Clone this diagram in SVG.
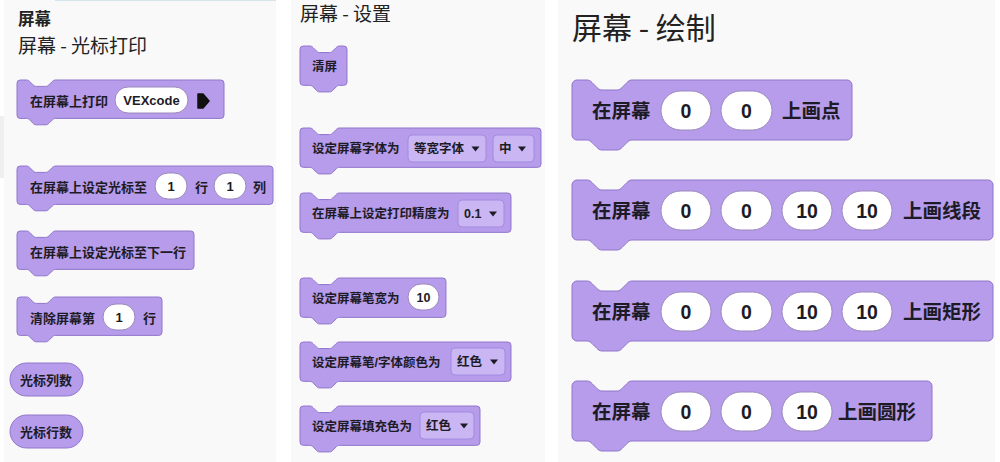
<svg xmlns="http://www.w3.org/2000/svg" width="1000" height="462" viewBox="0 0 1000 462">
<style>
.panel{fill:#f9f9f9}
.blk{fill:#b69cea;stroke:#9176cc;stroke-width:1;vector-effect:non-scaling-stroke}
.oval{fill:#ffffff;stroke:#9a88bd;stroke-width:1}
.dd{fill:#c9b6f3;stroke:#a28ae0;stroke-width:1}
.t{font-family:"Liberation Sans","Noto Sans CJK SC",sans-serif;font-weight:bold;fill:#1d1b26}
.h{font-family:"Noto Sans CJK SC","Liberation Sans",sans-serif;fill:#222222}
.s{font-size:13px}
.m{font-size:12.5px}
.l{font-size:19.5px}
.c{text-anchor:middle}
.tri{fill:#1d1b26}
</style>
<defs></defs>
<rect width="1000" height="462" fill="#ffffff"/>
<rect class="panel" x="4" y="0" width="272" height="462"/>
<rect class="panel" x="291" y="0" width="254" height="462"/>
<rect class="panel" x="558" y="0" width="437" height="462"/>
<line x1="55" y1="0.5" x2="276" y2="0.5" stroke="#d6e4ee" stroke-width="1"/>
<rect x="0" y="116" width="4" height="62" fill="#efefef"/>

<g id="titles">
<text class="h" x="18" y="25" font-size="16.5" font-weight="bold">屏幕</text>
<text class="h" x="18" y="52.5" font-size="19">屏幕 - 光标打印</text>
<text class="h" x="300" y="21" font-size="19">屏幕 - 设置</text>
<text class="h" x="572" y="39" font-size="30">屏幕 - 绘制</text>
</g>

<g id="connectors"></g>

<!-- Left panel -->
<g id="print">
<path class="blk" transform="translate(17,80) scale(0.8)" d="M0,4A4,4 0 0 1 4,0H12c2,0 3,1 4,2l4,4c1,1 2,2 4,2h12c2,0 3,-1 4,-2l4,-4c1,-1 2,-2 4,-2H254.75a4,4 0 0 1 4,4V44a4,4 0 0 1 -4,4H48c-2,0 -3,1 -4,2l-4,4c-1,1 -2,2 -4,2h-12c-2,0 -3,-1 -4,-2l-4,-4c-1,-1 -2,-2 -4,-2H4a4,4 0 0 1 -4,-4z"/>
<text class="t s" x="30" y="105.5">在屏幕上打印</text>
<rect class="oval" x="115" y="87" width="73" height="26" rx="13"/>
<text class="t s c" x="151.5" y="105">VEXcode</text>
<path d="M198,94H203L209,101L203,108H198Z" fill="#111" stroke="#111" stroke-width="1.5" stroke-linejoin="round"/>
</g>

<g id="setcursor">
<path class="blk" transform="translate(17,166) scale(0.8)" d="M0,4A4,4 0 0 1 4,0H12c2,0 3,1 4,2l4,4c1,1 2,2 4,2h12c2,0 3,-1 4,-2l4,-4c1,-1 2,-2 4,-2H316a4,4 0 0 1 4,4V44a4,4 0 0 1 -4,4H48c-2,0 -3,1 -4,2l-4,4c-1,1 -2,2 -4,2h-12c-2,0 -3,-1 -4,-2l-4,-4c-1,-1 -2,-2 -4,-2H4a4,4 0 0 1 -4,-4z"/>
<text class="t s" x="30" y="191.5">在屏幕上设定光标至</text>
<rect class="oval" x="155" y="173" width="32" height="26" rx="13"/>
<text class="t s c" x="171" y="191">1</text>
<text class="t s" x="195" y="191.5">行</text>
<rect class="oval" x="214" y="173" width="32" height="26" rx="13"/>
<text class="t s c" x="230" y="191">1</text>
<text class="t s" x="253" y="191.5">列</text>
</g>

<g id="nextrow">
<path class="blk" transform="translate(17,231) scale(0.8)" d="M0,4A4,4 0 0 1 4,0H12c2,0 3,1 4,2l4,4c1,1 2,2 4,2h12c2,0 3,-1 4,-2l4,-4c1,-1 2,-2 4,-2H217.25a4,4 0 0 1 4,4V44a4,4 0 0 1 -4,4H48c-2,0 -3,1 -4,2l-4,4c-1,1 -2,2 -4,2h-12c-2,0 -3,-1 -4,-2l-4,-4c-1,-1 -2,-2 -4,-2H4a4,4 0 0 1 -4,-4z"/>
<text class="t s" x="30" y="256.5">在屏幕上设定光标至下一行</text>
</g>

<g id="clearrow">
<path class="blk" transform="translate(17,297) scale(0.8)" d="M0,4A4,4 0 0 1 4,0H12c2,0 3,1 4,2l4,4c1,1 2,2 4,2h12c2,0 3,-1 4,-2l4,-4c1,-1 2,-2 4,-2H177.25a4,4 0 0 1 4,4V44a4,4 0 0 1 -4,4H48c-2,0 -3,1 -4,2l-4,4c-1,1 -2,2 -4,2h-12c-2,0 -3,-1 -4,-2l-4,-4c-1,-1 -2,-2 -4,-2H4a4,4 0 0 1 -4,-4z"/>
<text class="t s" x="30" y="322.5">清除屏幕第</text>
<rect class="oval" x="103" y="304" width="32" height="26" rx="13"/>
<text class="t s c" x="119" y="322">1</text>
<text class="t s" x="143" y="322.5">行</text>
</g>

<g id="cursorcol">
<rect class="blk" x="10" y="363" width="73" height="33" rx="16.5"/>
<text class="t s" x="20" y="384.5">光标列数</text>
</g>

<g id="cursorrow">
<rect class="blk" x="10" y="415" width="73" height="33" rx="16.5"/>
<text class="t s" x="20" y="436.5">光标行数</text>
</g>

<!-- Middle panel -->
<g id="clearscreen">
<path class="blk" transform="translate(300,46) scale(0.82)" d="M0,4A4,4 0 0 1 4,0H12c2,0 3,1 4,2l4,4c1,1 2,2 4,2h12c2,0 3,-1 4,-2l4,-4c1,-1 2,-2 4,-2H53.3a4,4 0 0 1 4,4V44a4,4 0 0 1 -4,4H48c-2,0 -3,1 -4,2l-4,4c-1,1 -2,2 -4,2h-12c-2,0 -3,-1 -4,-2l-4,-4c-1,-1 -2,-2 -4,-2H4a4,4 0 0 1 -4,-4z"/>
<text class="t m" x="312" y="71">清屏</text>
</g>

<g id="setfont">
<path class="blk" transform="translate(300,128) scale(0.82)" d="M0,4A4,4 0 0 1 4,0H12c2,0 3,1 4,2l4,4c1,1 2,2 4,2h12c2,0 3,-1 4,-2l4,-4c1,-1 2,-2 4,-2H289.9a4,4 0 0 1 4,4V44a4,4 0 0 1 -4,4H48c-2,0 -3,1 -4,2l-4,4c-1,1 -2,2 -4,2h-12c-2,0 -3,-1 -4,-2l-4,-4c-1,-1 -2,-2 -4,-2H4a4,4 0 0 1 -4,-4z"/>
<text class="t m" x="312" y="153">设定屏幕字体为</text>
<rect class="dd" x="408" y="135" width="78" height="27" rx="4"/>
<text class="t m" x="414" y="153">等宽字体</text>
<path class="tri" d="M471.5,146.5H479.5L475.5,151.5Z"/>
<rect class="dd" x="493" y="135" width="41" height="27" rx="4"/>
<text class="t m" x="499" y="153">中</text>
<path class="tri" d="M518,146.5H526L522,151.5Z"/>
</g>

<g id="setprecision">
<path class="blk" transform="translate(300,193) scale(0.82)" d="M0,4A4,4 0 0 1 4,0H12c2,0 3,1 4,2l4,4c1,1 2,2 4,2h12c2,0 3,-1 4,-2l4,-4c1,-1 2,-2 4,-2H253.3a4,4 0 0 1 4,4V44a4,4 0 0 1 -4,4H48c-2,0 -3,1 -4,2l-4,4c-1,1 -2,2 -4,2h-12c-2,0 -3,-1 -4,-2l-4,-4c-1,-1 -2,-2 -4,-2H4a4,4 0 0 1 -4,-4z"/>
<text class="t m" x="312" y="218">在屏幕上设定打印精度为</text>
<rect class="dd" x="458" y="200" width="46" height="27" rx="4"/>
<text class="t m" x="464" y="218">0.1</text>
<path class="tri" d="M489,211.5H497L493,216.5Z"/>
</g>

<g id="penwidth">
<path class="blk" transform="translate(300,278) scale(0.82)" d="M0,4A4,4 0 0 1 4,0H12c2,0 3,1 4,2l4,4c1,1 2,2 4,2h12c2,0 3,-1 4,-2l4,-4c1,-1 2,-2 4,-2H174a4,4 0 0 1 4,4V44a4,4 0 0 1 -4,4H48c-2,0 -3,1 -4,2l-4,4c-1,1 -2,2 -4,2h-12c-2,0 -3,-1 -4,-2l-4,-4c-1,-1 -2,-2 -4,-2H4a4,4 0 0 1 -4,-4z"/>
<text class="t m" x="312" y="303">设定屏幕笔宽为</text>
<rect class="oval" x="408" y="284" width="31" height="26" rx="13"/>
<text class="t m c" x="423.5" y="302">10</text>
</g>

<g id="pencolor">
<path class="blk" transform="translate(300,342) scale(0.82)" d="M0,4A4,4 0 0 1 4,0H12c2,0 3,1 4,2l4,4c1,1 2,2 4,2h12c2,0 3,-1 4,-2l4,-4c1,-1 2,-2 4,-2H253.3a4,4 0 0 1 4,4V44a4,4 0 0 1 -4,4H48c-2,0 -3,1 -4,2l-4,4c-1,1 -2,2 -4,2h-12c-2,0 -3,-1 -4,-2l-4,-4c-1,-1 -2,-2 -4,-2H4a4,4 0 0 1 -4,-4z"/>
<text class="t m" x="312" y="367">设定屏幕笔/字体颜色为</text>
<rect class="dd" x="451" y="348" width="54" height="27" rx="4"/>
<text class="t m" x="457" y="366">红色</text>
<path class="tri" d="M490,359.5H498L494,364.5Z"/>
</g>

<g id="fillcolor">
<path class="blk" transform="translate(300,406) scale(0.82)" d="M0,4A4,4 0 0 1 4,0H12c2,0 3,1 4,2l4,4c1,1 2,2 4,2h12c2,0 3,-1 4,-2l4,-4c1,-1 2,-2 4,-2H215.5a4,4 0 0 1 4,4V44a4,4 0 0 1 -4,4H48c-2,0 -3,1 -4,2l-4,4c-1,1 -2,2 -4,2h-12c-2,0 -3,-1 -4,-2l-4,-4c-1,-1 -2,-2 -4,-2H4a4,4 0 0 1 -4,-4z"/>
<text class="t m" x="312" y="431">设定屏幕填充色为</text>
<rect class="dd" x="420" y="412" width="54" height="27" rx="4"/>
<text class="t m" x="426" y="430">红色</text>
<path class="tri" d="M460,423.5H468L464,428.5Z"/>
</g>

<!-- Right panel -->
<g id="drawpixel">
<path class="blk" transform="translate(572,80) scale(1.25)" d="M0,4A4,4 0 0 1 4,0H12c2,0 3,1 4,2l4,4c1,1 2,2 4,2h12c2,0 3,-1 4,-2l4,-4c1,-1 2,-2 4,-2H220a4,4 0 0 1 4,4V44a4,4 0 0 1 -4,4H48c-2,0 -3,1 -4,2l-4,4c-1,1 -2,2 -4,2h-12c-2,0 -3,-1 -4,-2l-4,-4c-1,-1 -2,-2 -4,-2H4a4,4 0 0 1 -4,-4z"/>
<text class="t l" x="592" y="118">在屏幕</text>
<rect class="oval" x="661" y="91" width="50" height="39" rx="19.5"/>
<text class="t l c" x="686" y="117.5">0</text>
<rect class="oval" x="721" y="91" width="51" height="39" rx="19.5"/>
<text class="t l c" x="746.5" y="117.5">0</text>
<text class="t l" x="782" y="118">上画点</text>
</g>

<g id="drawline">
<path class="blk" transform="translate(572,180) scale(1.25)" d="M0,4A4,4 0 0 1 4,0H12c2,0 3,1 4,2l4,4c1,1 2,2 4,2h12c2,0 3,-1 4,-2l4,-4c1,-1 2,-2 4,-2H332.8a4,4 0 0 1 4,4V44a4,4 0 0 1 -4,4H48c-2,0 -3,1 -4,2l-4,4c-1,1 -2,2 -4,2h-12c-2,0 -3,-1 -4,-2l-4,-4c-1,-1 -2,-2 -4,-2H4a4,4 0 0 1 -4,-4z"/>
<text class="t l" x="592" y="218">在屏幕</text>
<rect class="oval" x="661" y="191" width="50" height="39" rx="19.5"/>
<text class="t l c" x="686" y="217.5">0</text>
<rect class="oval" x="721" y="191" width="51" height="39" rx="19.5"/>
<text class="t l c" x="746.5" y="217.5">0</text>
<rect class="oval" x="782" y="191" width="50" height="39" rx="19.5"/>
<text class="t l c" x="807" y="217.5">10</text>
<rect class="oval" x="842" y="191" width="50" height="39" rx="19.5"/>
<text class="t l c" x="867" y="217.5">10</text>
<text class="t l" x="903" y="218">上画线段</text>
</g>

<g id="drawrect">
<path class="blk" transform="translate(572,281) scale(1.25)" d="M0,4A4,4 0 0 1 4,0H12c2,0 3,1 4,2l4,4c1,1 2,2 4,2h12c2,0 3,-1 4,-2l4,-4c1,-1 2,-2 4,-2H332.8a4,4 0 0 1 4,4V44a4,4 0 0 1 -4,4H48c-2,0 -3,1 -4,2l-4,4c-1,1 -2,2 -4,2h-12c-2,0 -3,-1 -4,-2l-4,-4c-1,-1 -2,-2 -4,-2H4a4,4 0 0 1 -4,-4z"/>
<text class="t l" x="592" y="319">在屏幕</text>
<rect class="oval" x="661" y="292" width="50" height="39" rx="19.5"/>
<text class="t l c" x="686" y="318.5">0</text>
<rect class="oval" x="721" y="292" width="51" height="39" rx="19.5"/>
<text class="t l c" x="746.5" y="318.5">0</text>
<rect class="oval" x="782" y="292" width="50" height="39" rx="19.5"/>
<text class="t l c" x="807" y="318.5">10</text>
<rect class="oval" x="842" y="292" width="50" height="39" rx="19.5"/>
<text class="t l c" x="867" y="318.5">10</text>
<text class="t l" x="903" y="319">上画矩形</text>
</g>

<g id="drawcircle">
<path class="blk" transform="translate(572,381) scale(1.25)" d="M0,4A4,4 0 0 1 4,0H12c2,0 3,1 4,2l4,4c1,1 2,2 4,2h12c2,0 3,-1 4,-2l4,-4c1,-1 2,-2 4,-2H284a4,4 0 0 1 4,4V44a4,4 0 0 1 -4,4H48c-2,0 -3,1 -4,2l-4,4c-1,1 -2,2 -4,2h-12c-2,0 -3,-1 -4,-2l-4,-4c-1,-1 -2,-2 -4,-2H4a4,4 0 0 1 -4,-4z"/>
<text class="t l" x="592" y="419">在屏幕</text>
<rect class="oval" x="661" y="392" width="50" height="39" rx="19.5"/>
<text class="t l c" x="686" y="418.5">0</text>
<rect class="oval" x="721" y="392" width="51" height="39" rx="19.5"/>
<text class="t l c" x="746.5" y="418.5">0</text>
<rect class="oval" x="782" y="392" width="50" height="39" rx="19.5"/>
<text class="t l c" x="807" y="418.5">10</text>
<text class="t l" x="838" y="419">上画圆形</text>
</g>
</svg>
